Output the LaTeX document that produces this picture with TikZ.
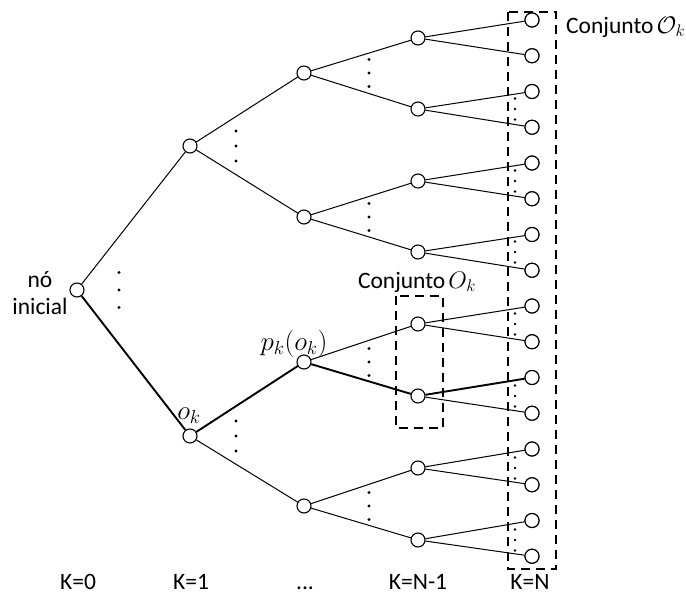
\RequirePackage{fix-cm}
\documentclass[tikz,border=0pt]{standalone}
\usepackage{fontspec}
\setmainfont{Carlito}
\newcommand{\bigmath}[1]{{\fontsize{27bp}{30bp}\selectfont$#1$}}
\newcommand{\setmath}[1]{{\fontsize{24bp}{28bp}\selectfont$#1$}}
\begin{document}
\begin{tikzpicture}[x=1bp,y=-1bp,
  vert/.style={circle,draw,fill=white,line width=1.1bp,minimum size=14bp,inner sep=0pt},
  edge/.style={line width=1bp},
  boldedge/.style={line width=1.9bp},
  setbox/.style={line width=2.3bp,dash pattern=on 9bp off 6bp},
  lbl/.style={font=\fontsize{23.5bp}{27bp}\selectfont,inner sep=0pt},
  vdot/.style={circle,fill=black,inner sep=0pt,minimum size=3.2bp}]
\useasboundingbox (0,0) rectangle (686,593);

% root and the levels of the tree
\node[vert] (r) at (77,290) {};
\foreach \y [count=\i] in {146,436} \node[vert] (a\i) at (190,\y) {};
\foreach \y [count=\i] in {73,217,362,506} \node[vert] (b\i) at (304,\y) {};
\foreach \y [count=\i] in {38,109,181,252,324,396,468,540} \node[vert] (c\i) at (418,\y) {};
\foreach \i in {1,...,16} \node[vert] (d\i) at (532,{20+35.75*(\i-1)}) {};

% edges: the highlighted path is drawn heavier
\draw[edge] (r) -- (a1);
\draw[boldedge] (r) -- (a2);
\draw[edge] (a1) -- (b1);
\draw[edge] (a1) -- (b2);
\draw[boldedge] (a2) -- (b3);
\draw[edge] (a2) -- (b4);
\foreach \j in {1,...,4}{
  \pgfmathtruncatemacro\ua{2*\j-1}
  \pgfmathtruncatemacro\ub{2*\j}
  \draw[edge] (b\j) -- (c\ua);
  \ifnum\j=3 \draw[boldedge] (b\j) -- (c\ub); \else \draw[edge] (b\j) -- (c\ub); \fi
}
\foreach \k in {1,...,8}{
  \pgfmathtruncatemacro\ua{2*\k-1}
  \pgfmathtruncatemacro\ub{2*\k}
  \ifnum\k=6 \draw[boldedge] (c\k) -- (d\ua); \else \draw[edge] (c\k) -- (d\ua); \fi
  \draw[edge] (c\k) -- (d\ub);
}
\foreach \i in {1,...,16} \node[vert] at (d\i) {};

% vertical ellipses between branches
\foreach \d in {-17.5,0,17.5} \node[vdot] at (119,290+\d) {};
\foreach \y in {146,436} \foreach \d in {-15,0,15} \node[vdot] at (236,\y+\d) {};
\foreach \y in {73,217,362,506} \foreach \d in {-13.5,0,13.5} \node[vdot] at (369,\y+\d) {};
\foreach \y in {109,181,252,324,396,468,540} \foreach \d in {-10.5,0,10.5}
  \node[vdot,minimum size=2.6bp] at (515,\y+\d) {};

% dashed sets
\draw[setbox] (508,12) rectangle (556,569);
\draw[setbox] (396,296) rectangle (443,428);

% labels
\node[lbl,align=center] (root label) at (40,293) {nó\\inicial};
\node[lbl] (ok label) at (189,416) {\bigmath{o_k}};
\node[lbl] (pk label) at (294,344) {\bigmath{p_k(o_k)}};
\node[lbl] (set small) at (417,282) {Conjunto\hspace{3bp}\setmath{O_k}};
\node[lbl,anchor=west] (set big) at (566,27) {Conjunto\hspace{3bp}\setmath{\mathcal{O}_k}};
\tikzset{stage/.style={lbl,anchor=base,text depth=0pt,text height=14bp}}
\node[stage] (stage0) at (78,589) {K=0};
\node[stage] (stage1) at (191,589) {K=1};
\node[stage] (stagemid) at (305,589) {...};
\node[stage] (stageN1) at (418,589) {K=N-1};
\node[stage] (stageN) at (530,589) {K=N};
\end{tikzpicture}
\end{document}
